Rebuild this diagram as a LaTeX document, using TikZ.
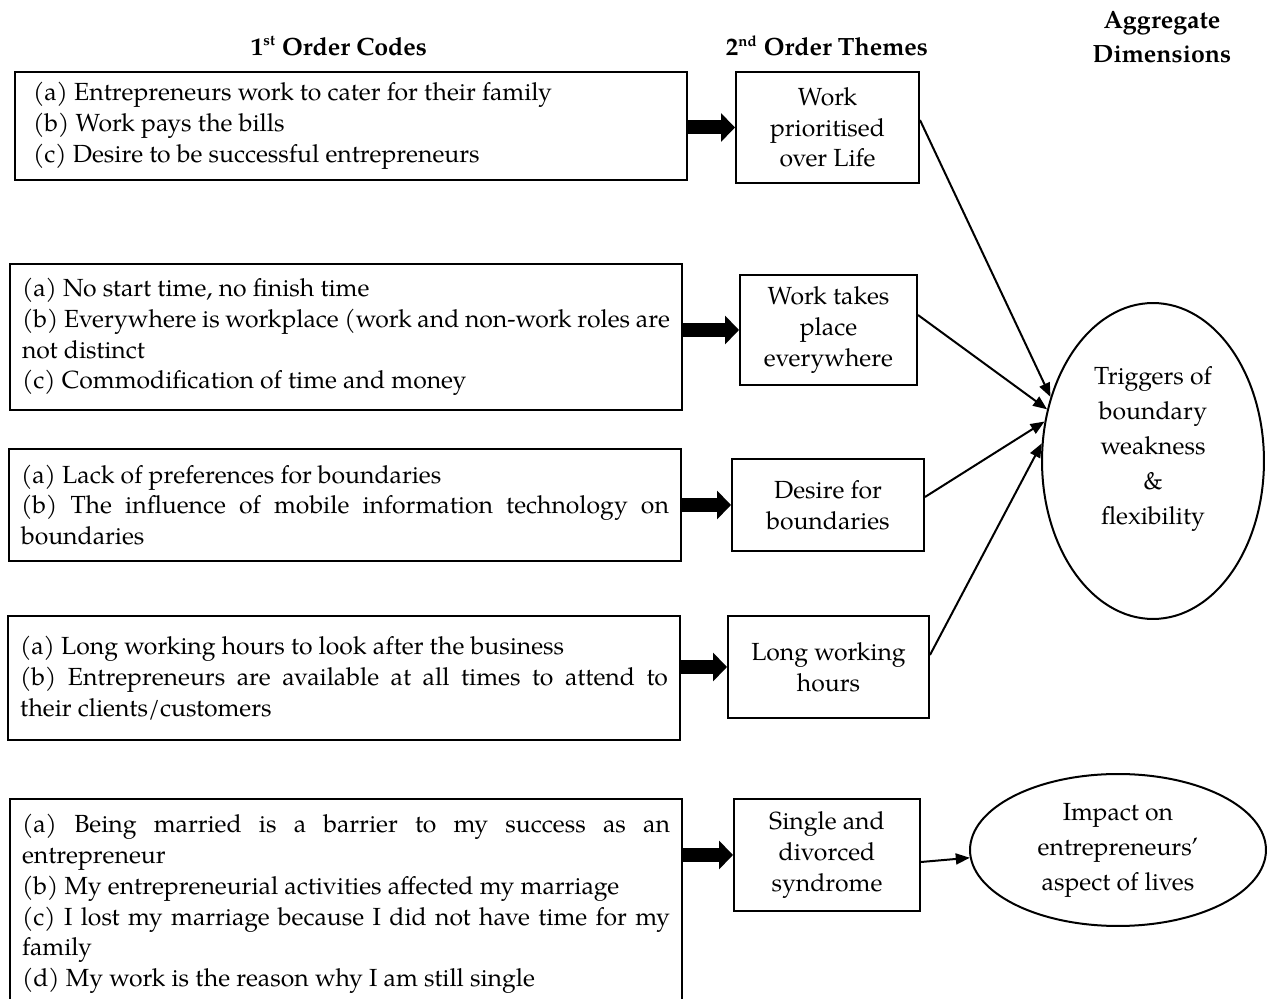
\documentclass[tikz,border=0pt]{standalone}
\usepackage{fontspec}
\setmainfont{TeX Gyre Pagella}
\usetikzlibrary{arrows.meta,shapes.geometric}

\newcommand{\boxfont}{\fontsize{14.1}{17.5}\selectfont}
\newcommand{\dimfont}{\fontsize{14.1}{19.9}\selectfont}
\newcommand{\headfont}{\fontsize{14.2}{19.3}\selectfont\bfseries}
\newcommand{\ordsup}[1]{\textsuperscript{\fontsize{8.5}{8.5}\selectfont #1}}

\begin{document}
\begin{tikzpicture}[x=0.02cm,y=-0.02cm,
        codebox/.style={draw,line width=0.04cm,text width=12.96cm,inner xsep=0.24cm,
                minimum height=#1,align=justify,font=\boxfont},
        themebox/.style={draw,line width=0.04cm,align=center,font=\boxfont},
        dimension/.style={draw,ellipse,line width=0.04cm,inner sep=0pt,align=center,font=\dimfont},
        header/.style={align=center,font=\headfont},
        blockarrow/.style={line width=0.28cm,-{Triangle[length=0.28cm,width=0.56cm]}},
        link/.style={line width=0.04cm,-{Triangle[length=0.28cm,width=0.22cm]}}]
        \useasboundingbox (0,0) rectangle (1269,999);

        % draw the column headers
        \node[header] (h1) at (339,46) {1\ordsup{st} Order Codes};
        \node[header] (h2) at (827,46) {2\ordsup{nd} Order Themes};
        \node[header] (h3) at (1162,37) {Aggregate\\Dimensions};

        % first order codes
        \node[codebox=2.16cm,inner xsep=0.36cm,text width=12.72cm] (c1) at (351,126)
                {(a) Entrepreneurs work to cater for their family\\
                (b) Work pays the bills\\
                (c) Desire to be successful entrepreneurs};
        \node[codebox=2.92cm] (c2) at (346,337)
                {(a) No start time, no finish time\\
                (b) Everywhere is workplace (work and non-work roles are\linebreak not distinct\\
                (c) Commodification of time and money};
        \node[codebox=2.24cm] (c3) at (345,505)
                {(a) Lack of preferences for boundaries\\
                (b) The influence of mobile information technology on\linebreak boundaries};
        \node[codebox=2.48cm] (c4) at (344,678)
                {(a) Long working hours to look after the business\\
                (b) Entrepreneurs are available at all times to attend to\linebreak their clients/customers};
        \node[codebox=4.2cm] (c5) at (346,904)
                {(a) Being married is a barrier to my success as an\linebreak entrepreneur\\
                (b) My entrepreneurial activities affected my marriage\\
                (c) I lost my marriage because I did not have time for my\linebreak family\\
                (d) My work is the reason why I am still single};

        % second order themes
        \foreach \n/\x/\y/\w/\h/\txt in {
            t1/827.5/127.5/3.66/2.22/{Work\\prioritised\\over Life},
            t2/828.5/330/3.54/2.2/{Work takes\\place\\everywhere},
            t3/828/505/3.84/1.84/{Desire for\\boundaries},
            t4/828.5/667/4.02/2.04/{Long working\\hours},
            t5/827/855/3.72/2.24/{Single and\\divorced\\syndrome}}
                \node[themebox,minimum width=\w cm,minimum height=\h cm] (\n) at (\x,\y) {\txt};

        % aggregate dimensions
        \node[dimension,minimum width=4.44cm,minimum height=6.32cm] (d1) at (1153,461) {};
        \node[align=center,font=\dimfont] (d1text) at (1153,449)
                {Triggers of\\boundary\\weakness\\\&\\flexibility};
        \node[dimension,minimum width=5.92cm,minimum height=3.04cm] (d2) at (1118,850)
                {Impact on\\entrepreneurs'\\aspect of lives};

        % thick arrows from codes to themes
        \foreach \c/\t in {c1/t1,c2/t2,c3/t3,c4/t4,c5/t5}
                \draw[blockarrow] (\t.west -| \c.east) -- (\t.west);

        % thin arrows from themes to dimensions
        \draw[link] ([yshift=0.15cm]t1.east) -- (d1.148);
        \draw[link] ([yshift=0.3cm]t2.east) -- (d1.154);
        \draw[link] ([yshift=0.16cm]t3.east) -- (d1.160);
        \draw[link] ([yshift=0.24cm]t4.east) -- (d1.171);
        \draw[link] ([yshift=-0.14cm]t5.east) -- (d2.183);
\end{tikzpicture}
\end{document}
